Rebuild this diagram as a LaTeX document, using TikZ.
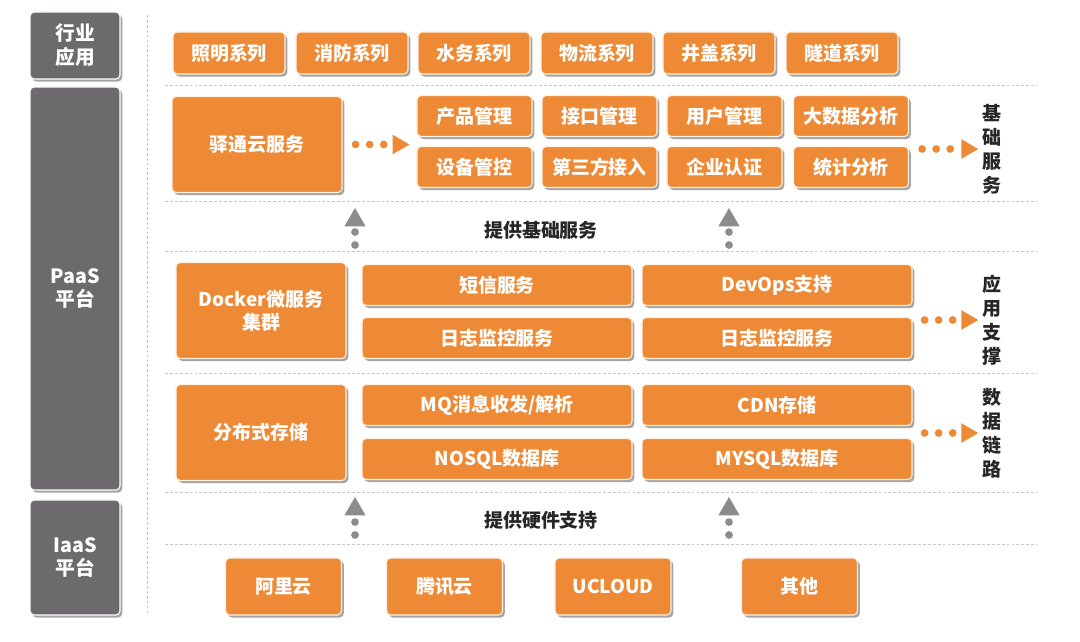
\documentclass[tikz,border=0pt]{standalone}
\usepackage{fontspec}
\setmainfont{Noto Sans CJK SC}
\usepackage{tikz}
\usetikzlibrary{shapes,arrows.meta,shadows}
\definecolor{ora}{HTML}{EE8A35}
\definecolor{slate}{HTML}{6D6A6D}
\tikzstyle{box} = [draw=orange!12!white, line width=0.8pt, fill=ora, rounded corners=3pt,
    text=white, align=center, inner sep=0pt, font=\bfseries\fontsize{13.5}{16.5}\selectfont,
    drop shadow={shadow xshift=1.6pt, shadow yshift=-1.8pt, fill=black!65, opacity=0.55}]
\tikzstyle{tile} = [box, minimum width=2.8cm, minimum height=1.05cm]
\tikzstyle{cell} = [box, minimum width=2.875cm, minimum height=1.025cm]
\tikzstyle{wide} = [box, minimum width=6.75cm, minimum height=1.025cm]
\tikzstyle{big} = [box, minimum width=4.25cm, minimum height=2.4cm]
\tikzstyle{cloud} = [box, minimum width=2.9cm, minimum height=1.425cm]
\tikzstyle{side} = [box, fill=slate, draw=white, minimum width=2.25cm,
    font=\bfseries\fontsize{14}{17}\selectfont]
\tikzstyle{sepline} = [gray!45, line width=0.5pt, dash pattern=on 2pt off 1.5pt]
\tikzstyle{hdots} = [ora, line width=5.5pt, line cap=round, dash pattern=on 0pt off 10pt,
    -{Triangle[length=12pt,width=14pt,line width=0pt]}]
\tikzstyle{vdots} = [gray!90, line width=5.5pt, line cap=round, dash pattern=on 0pt off 9.2pt,
    -{Triangle[length=13pt,width=15pt,line width=0pt]}]
\tikzstyle{vlabel} = [inner sep=0pt, text=black!85, align=center,
    font=\bfseries\fontsize{13.5}{17}\selectfont]
\tikzstyle{note} = [inner sep=0pt, text=black!85, font=\bfseries\fontsize{13.5}{16}\selectfont]

\begin{document}
\begin{tikzpicture}[x=0.025cm, y=-0.025cm]
    \useasboundingbox (0,0) rectangle (1080,642);

    % layer separators
    \draw[sepline] (147,15) -- (147,615);
    \foreach \y in {85,201,251,373,492,544}
        \draw[sepline] (165,\y) -- (1037,\y);

    % left column
    \node[side, minimum height=1.675cm] (hangye) at (75,45.5) {行业\\应用};
    \node[side, minimum height=10.075cm] (paas) at (75,288.5) {PaaS\\平台};
    \node[side, minimum height=2.875cm] (iaas) at (75,557.5) {IaaS\\平台};

    % industry applications
    \node[tile] (zhaoming) at (229,53) {照明系列};
    \node[tile] (xiaofang) at (352,53) {消防系列};
    \node[tile] (shuiwu) at (474,53) {水务系列};
    \node[tile] (wuliu) at (597,53) {物流系列};
    \node[tile] (jinggai) at (719,53) {井盖系列};
    \node[tile] (suidao) at (842,53) {隧道系列};

    % basic services
    \node[big] (yitong) at (257,144.5) {驿通云服务};
    \node[cell] (chanpin) at (474.5,116) {产品管理};
    \node[cell] (jiekou) at (599.5,116) {接口管理};
    \node[cell] (yonghu) at (724.5,116) {用户管理};
    \node[cell] (dsj) at (851,116) {大数据分析};
    \node[cell] (shebei) at (474.5,167) {设备管控};
    \node[cell] (disanfang) at (599.5,167) {第三方接入};
    \node[cell] (qiye) at (724.5,167) {企业认证};
    \node[cell] (tongji) at (851,167) {统计分析};
    \node[vlabel] (jcfw) at (992,149) {基\\础\\服\\务};

    \draw[hdots, shorten <=0.325cm, shorten >=0.175cm] (yitong.east) -- (yitong.east -| chanpin.west);
    \draw[hdots, shorten <=0.325cm, shorten >=0.1cm] (dsj.east |- jcfw.west) -- (jcfw.west);

    \coordinate (up1a) at (355,245);
    \coordinate (up1b) at (355,208);
    \coordinate (up2a) at (729,245);
    \coordinate (up2b) at (729,208);
    \draw[vdots] (up1a) -- (up1b);
    \draw[vdots] (up2a) -- (up2b);
    \node[note] (jichu) at (541,230) {提供基础服务};

    % application support
    \node[big] (docker) at (261,310.5) {Docker微服务\\集群};
    \node[wide] (duanxin) at (497,285) {短信服务};
    \node[wide] (devops) at (777,285) {DevOps支持};
    \node[wide] (rizhi) at (497,338) {日志监控服务};
    \node[wide] (rizhib) at (777,338) {日志监控服务};
    \node[vlabel] (yyzc) at (992,320) {应\\用\\支\\撑};
    \draw[hdots, shorten <=0.3cm, shorten >=0.1cm] (devops.east |- yyzc.west) -- (yyzc.west);

    % data link
    \node[big] (fenbu) at (261,432.5) {分布式存储};
    \node[wide] (mq) at (497,405) {MQ消息收发/解析};
    \node[wide] (cdn) at (777,405) {CDN存储};
    \node[wide] (nosql) at (497,459) {NOSQL数据库};
    \node[wide] (mysql) at (777,459) {MYSQL数据库};
    \node[vlabel] (sjll) at (992,433) {数\\据\\链\\路};
    \draw[hdots, shorten <=0.3cm, shorten >=0.1cm] (cdn.east |- sjll.west) -- (sjll.west);

    \coordinate (up3a) at (355,535);
    \coordinate (up3b) at (355,497);
    \coordinate (up4a) at (729,535);
    \coordinate (up4b) at (729,497);
    \draw[vdots] (up3a) -- (up3b);
    \draw[vdots] (up4a) -- (up4b);
    \node[note] (yingjian) at (541,520) {提供硬件支持};

    % cloud providers
    \node[cloud] (aliyun) at (283.5,586.5) {阿里云};
    \node[cloud] (tengxun) at (444.5,586.5) {腾讯云};
    \node[cloud] (ucloud) at (613,586.5) {UCLOUD};
    \node[cloud] (qita) at (799.5,586.5) {其他};
\end{tikzpicture}
\end{document}
